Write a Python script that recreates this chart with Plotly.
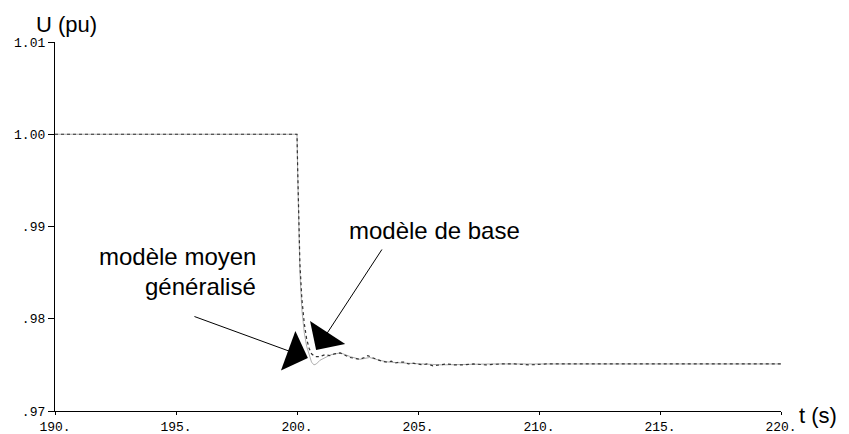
import plotly.graph_objects as go

# tension (pu) vs temps (s)
t_base = [190.0, 200.0, 200.03, 200.07, 200.12, 200.2, 200.3, 200.4, 200.5, 200.6,
          200.75, 200.95, 201.15, 201.36, 201.55, 201.78, 202.0, 202.19, 202.4, 202.6,
          202.78, 202.93, 203.1, 203.31, 203.5, 203.72, 203.9, 204.05, 204.25, 204.46,
          204.6, 204.75, 205.0, 205.2, 205.37, 205.62, 205.9, 206.2, 206.5, 206.86,
          207.3, 207.8, 208.4, 209.0, 209.6, 210.3, 211.0, 212.0, 213.0, 214.0,
          215.0, 216.0, 217.0, 218.0, 219.0, 220.0]
u_base = [1.0, 1.0, 0.9960, 0.9910, 0.9860, 0.9822, 0.9795, 0.9778, 0.9768, 0.9762,
          0.9759, 0.9759, 0.9761, 0.9760, 0.9762, 0.9763, 0.9760, 0.9758, 0.9757, 0.9756,
          0.9758, 0.9760, 0.9758, 0.9756, 0.9754, 0.9753, 0.9754, 0.9752, 0.9753, 0.9753,
          0.9751, 0.9752, 0.9751, 0.9750, 0.9751, 0.9749, 0.9750, 0.9751, 0.9750, 0.9750,
          0.9751, 0.9750, 0.9751, 0.9751, 0.9750, 0.9751, 0.9751, 0.9751, 0.9751, 0.9751,
          0.9751, 0.9751, 0.9751, 0.9751, 0.9751, 0.9751]

t_moy = [190.0, 200.0, 200.03, 200.07, 200.12, 200.2, 200.3, 200.4, 200.5, 200.6,
         200.7, 200.8, 200.95, 201.15, 201.4, 201.8, 202.2, 202.6, 203.0, 203.4,
         203.8, 204.4, 205.0, 206.0, 208.0, 212.0, 216.0, 220.0]
u_moy = [1.0, 1.0, 0.9955, 0.9900, 0.9850, 0.9810, 0.9785, 0.9770, 0.9760, 0.9753,
         0.9750, 0.9751, 0.9755, 0.9758, 0.9761, 0.9763, 0.9759, 0.9756, 0.9758, 0.9755,
         0.9753, 0.9752, 0.9751, 0.9750, 0.9751, 0.9751, 0.9751, 0.9751]

x_ticks = [190, 195, 200, 205, 210, 215, 220]
x_labels = ['190.', '195.', '200.', '205.', '210.', '215.', '220.']
y_ticks = [0.97, 0.98, 0.99, 1.00, 1.01]
y_labels = ['.97', '.98', '.99', '1.00', '1.01']

fig = go.Figure()
fig.add_trace(go.Scatter(x=t_moy, y=u_moy, mode='lines',
                         line=dict(color='#9a9a9a', width=0.8), name='modèle moyen généralisé'))
fig.add_trace(go.Scatter(x=t_base, y=u_base, mode='lines',
                         line=dict(color='#333333', width=1.2, dash='dot'), name='modèle de base'))

txt = dict(family='Liberation Sans, Arial', size=24, color='black')
axtxt = dict(family='Liberation Sans, Arial', size=22, color='black')

fig.add_annotation(x=205.7, y=0.9896, text='modèle de base', showarrow=False, font=txt)
fig.add_annotation(x=198.39, y=0.9868, text='modèle moyen', showarrow=False,
                   xanchor='right', font=txt)
fig.add_annotation(x=198.39, y=0.9835, text='généralisé', showarrow=False,
                   xanchor='right', font=txt)

# flèches
fig.add_annotation(x=200.79, y=0.97661, ax=203.55, ay=0.98767, axref='x', ayref='y',
                   text='', showarrow=True, arrowhead=1, arrowsize=7, arrowwidth=1,
                   arrowcolor='black')
fig.add_annotation(x=200.45, y=0.97575, ax=195.70, ay=0.98030, axref='x', ayref='y',
                   text='', showarrow=True, arrowhead=1, arrowsize=7, arrowwidth=1,
                   arrowcolor='black')

fig.add_annotation(x=0.0165, y=1.088, xref='paper', yref='paper', text='U (pu)',
                   showarrow=False, xanchor='center', yanchor='top', font=axtxt)
fig.add_annotation(x=1.08, y=-0.011, xref='paper', yref='paper', text='t (s)',
                   showarrow=False, xanchor='right', yanchor='middle', font=axtxt)

mono = dict(family='Liberation Mono, Courier New', size=13, color='black')
fig.update_xaxes(range=[190, 220], tickvals=x_ticks, ticktext=x_labels, automargin=False,
                 showgrid=False, zeroline=False, showline=True, linecolor='black',
                 linewidth=1.3, ticks='outside', ticklen=3, tickcolor='black',
                 tickfont=mono)
fig.update_yaxes(range=[0.97, 1.01], tickvals=y_ticks, ticktext=y_labels, automargin=False,
                 showgrid=False, zeroline=False, showline=True, linecolor='black',
                 linewidth=1.3, ticks='outside', ticklen=6, tickcolor='black',
                 tickfont=mono)

# the page body adds an 8px offset, so the figure is a bit smaller than the window
fig.update_layout(width=841, height=426, showlegend=False,
                  plot_bgcolor='white', paper_bgcolor='white',
                  margin=dict(l=47, r=68, t=34, b=23))

fig.write_html("out.html")
